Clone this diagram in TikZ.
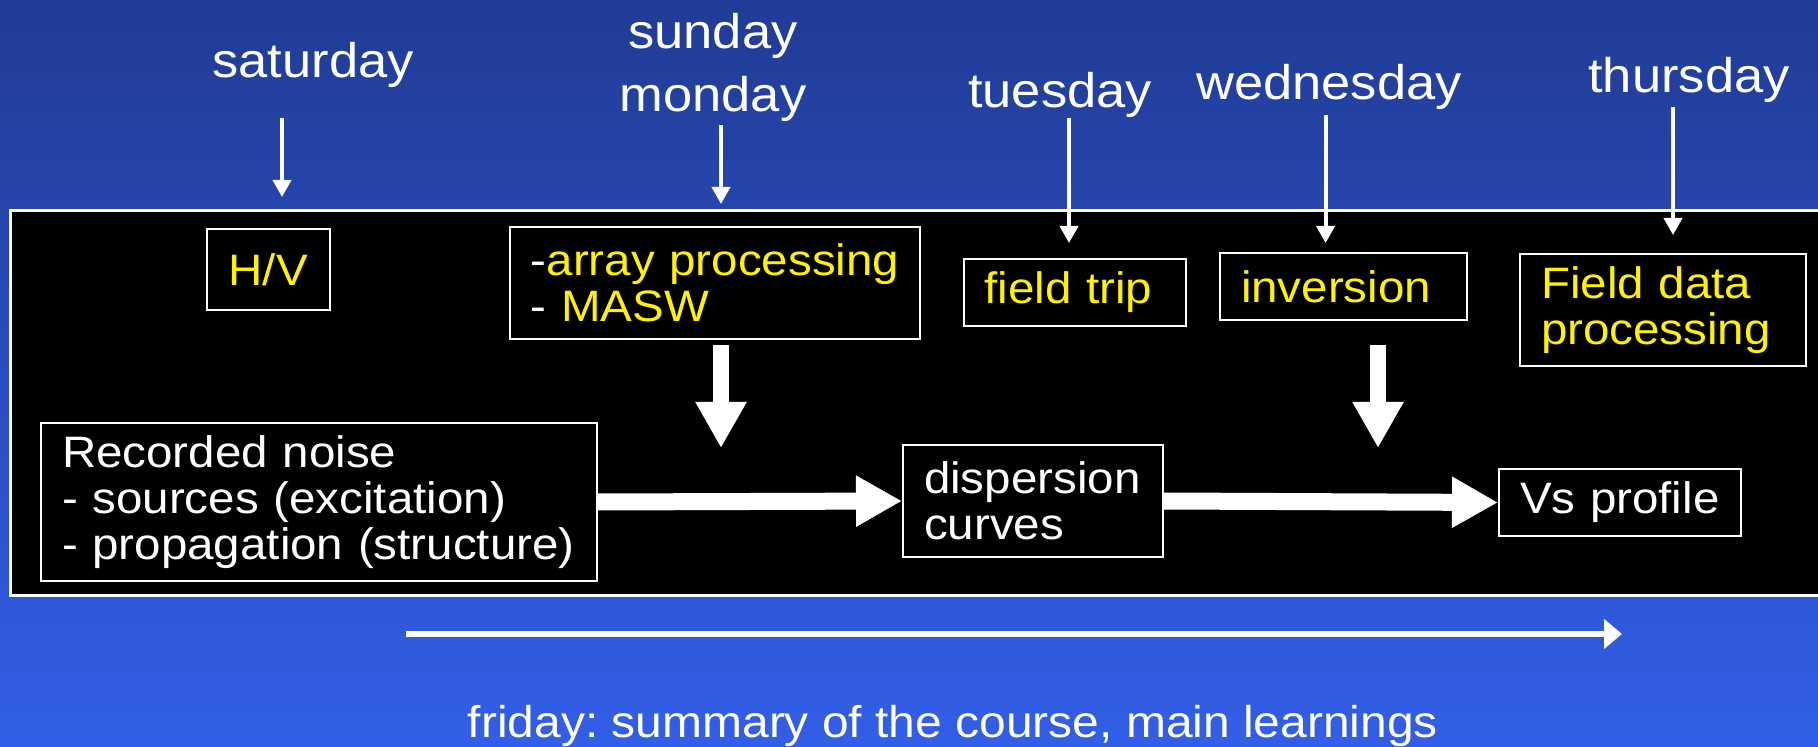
\documentclass[tikz,border=0pt]{standalone}
\usepackage{fontspec}
\setmainfont{Liberation Sans}[FakeStretch=1.08]
\usetikzlibrary{arrows.meta}
\definecolor{bgtop}{RGB}{33,60,150}
\definecolor{bgbottom}{RGB}{50,95,232}
\frenchspacing

\begin{document}
\begin{tikzpicture}[x=0.5pt,y=-0.5pt]
	\tikzstyle{day}=[text=white,inner sep=0pt,anchor=base,align=center,font=\fontsize{24.3}{31.7}\selectfont]
	\tikzstyle{box}=[draw=white,line width=1pt,fill=black,anchor=north west,inner xsep=10.5pt,inner ysep=0pt,align=left,text=yellow,font=\fontsize{22}{23}\selectfont]
	\tikzstyle{thin arrow}=[white,line width=2pt,-{Triangle[width=9pt,length=8.5pt]}]
	\tikzstyle{big arrow}=[white,line width=8.5pt,-{Triangle[width=24pt,length=23pt]}]

	\shade[top color=bgtop,bottom color=bgbottom] (0,0) rectangle (1818,747);
	\useasboundingbox (0,0) rectangle (1818,747);

	\draw[white,line width=1.5pt,fill=black] (10.5,211) rectangle (1830,595);

	\node[day] (sat) at (313,78) {saturday};
	\node[day] (sun) at (713,111.7) {sunday\\monday};
	\node[day] (tue) at (1060,108) {tuesday};
	\node[day] (wed) at (1329,100) {wednesday};
	\node[day] (thu) at (1689,93) {thursday};

	\node[box,text width=40.75pt,minimum height=40.5pt,align=center] (hv) at (205.5,228) {H/V};
	\node[box,text width=190pt,inner xsep=7.6pt,minimum height=56pt] (arr) at (508.6,226) {\hspace{3pt}{\color{white}-}array processing\\\hspace{3pt}{\color{white}- }MASW};
	\node[box,text width=89.95pt,minimum height=33.5pt] (trip) at (962.6,258) {field trip};
	\node[box,text width=102.5pt,minimum height=33.5pt] (inv) at (1219,252) {inversion};
	\node[box,text width=121.75pt,minimum height=56pt] (fdp) at (1519,253) {Field data\\processing};

	\node[box,text=white,text width=257pt,minimum height=79pt] (noise) at (40,422) {Recorded noise\\- sources (excitation)\\- propagation (structure)};
	\node[box,text=white,text width=109pt,minimum height=56pt] (disp) at (902,444) {dispersion\\curves};
	\node[box,text=white,text width=99.8pt,minimum height=33.5pt] (vs) at (1498,468) {Vs profile};

	\coordinate (t1) at (282,197);
	\coordinate (t2) at (721,204);
	\coordinate (t3) at (1069,243);
	\coordinate (t4) at (1325.6,243);
	\coordinate (t5) at (1673,235);

	\draw[thin arrow,shorten <=15pt] (sat.south -| t1) -- (t1);
	\draw[thin arrow,shorten <=1.5pt] (sun.south -| t2) -- (t2);
	\draw[thin arrow] (tue.south -| t3) -- (t3);
	\draw[thin arrow,shorten <=2.5pt] (wed.south -| t4) -- (t4);
	\draw[thin arrow,shorten <=2pt] (thu.south -| t5) -- (t5);

	\coordinate (m1) at (721,448);
	\coordinate (m2) at (1378,448);

	\draw[big arrow,line width=8pt,shorten <=2.5pt] (arr.south -| m1) -- (m1);
	\draw[big arrow,line width=8pt,shorten <=12pt] (inv.south -| m2) -- (m2);

	\draw[big arrow] (noise.east) -- (disp.west);
	\draw[big arrow] (disp.east) -- (vs.west);

	\coordinate (tl0) at (406,634);
	\coordinate (tl1) at (1622,634);
	\draw[white,line width=3pt,-{Triangle[width=14.5pt,length=9pt]}] (tl0) -- (tl1);

	\node[text=white,anchor=base,inner sep=0pt,font=\fontsize{22.2}{23}\selectfont] (fri) at (953,737) {friday: summary of the course, main learnings};
\end{tikzpicture}
\end{document}
